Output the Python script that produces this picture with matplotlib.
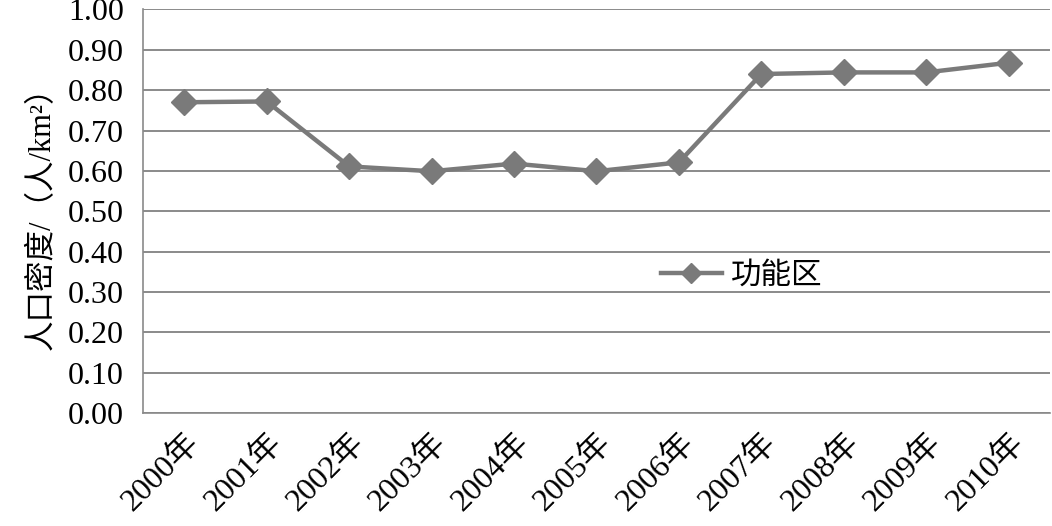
import matplotlib
matplotlib.use('Agg')
import matplotlib.pyplot as plt

plt.rcParams['font.family'] = ['Liberation Serif', 'Noto Sans CJK SC']

# data
years = ['2000年', '2001年', '2002年', '2003年', '2004年', '2005年',
         '2006年', '2007年', '2008年', '2009年', '2010年']
density = [0.770, 0.772, 0.611, 0.599, 0.618, 0.599, 0.621, 0.840, 0.844, 0.844, 0.868]
yticks = [0.0, 0.1, 0.2, 0.3, 0.4, 0.5, 0.6, 0.7, 0.8, 0.9, 1.0]

fig = plt.figure(figsize=(10.52, 5.26), dpi=100)
ax = fig.add_axes([0.136, 0.215, 0.862, 0.767])

x = list(range(len(years)))
ax.plot(x, density, color='#7a7a7a', lw=3.2, marker='D', ms=13,
        mfc='#7a7a7a', mec='#7a7a7a', label='功能区', zorder=3)

ax.set_xlim(-0.5, len(years) - 0.5)
ax.set_ylim(0, 1.0)
ax.set_yticks(yticks)
ax.set_yticklabels(['%.2f' % v for v in yticks], fontsize=23)
ax.set_xticks(x)
ax.set_xticklabels(years, fontsize=23, rotation=45, ha='right',
                   rotation_mode='anchor')
ax.tick_params(axis='y', length=0, pad=14)
ax.tick_params(axis='x', length=0, pad=11)

ax.grid(axis='y', color='#8a8a8a', lw=1.4)
ax.set_axisbelow(True)
for s in ['top', 'right']:
    ax.spines[s].set_visible(False)
for s in ['left', 'bottom']:
    ax.spines[s].set_color('#8a8a8a')
    ax.spines[s].set_linewidth(1.2)

ax.set_ylabel('人口密度/（人/km²）', fontsize=22, labelpad=8)

ax.legend(loc='center', bbox_to_anchor=(0.66, 0.34), frameon=False,
          fontsize=22, handlelength=2.0, handletextpad=0.3, markerscale=0.75)

fig.savefig('out.png', dpi=100)
